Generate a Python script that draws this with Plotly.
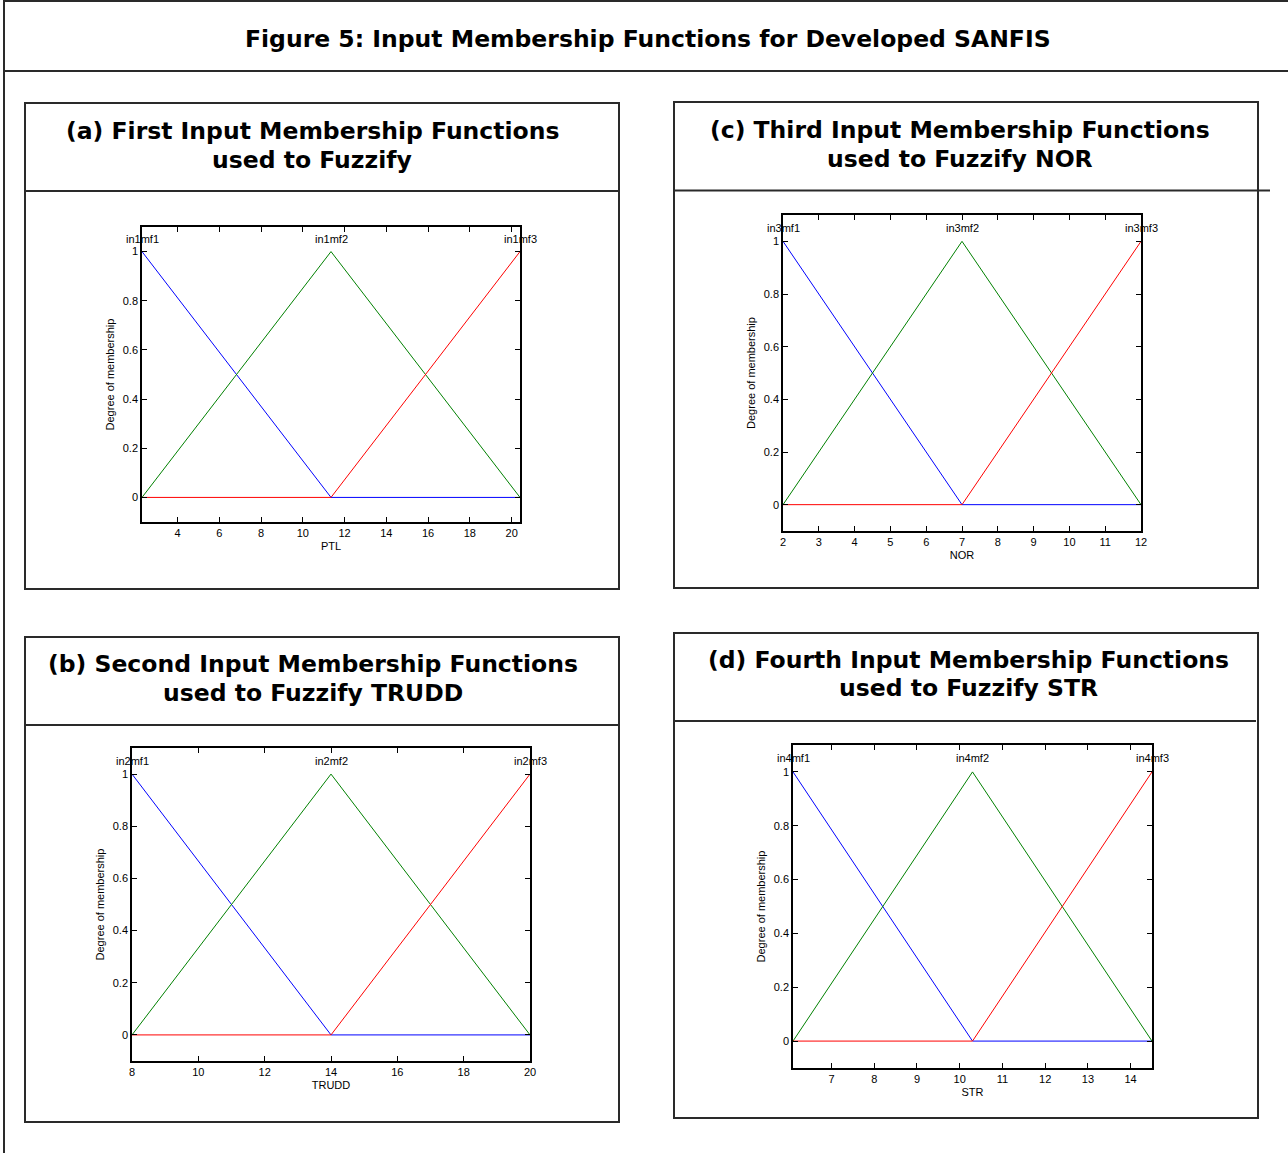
import plotly.graph_objects as go

W, H = 1288, 1153

# ---------------- data ----------------
# breakpoints of the three triangular membership functions of each input
ptl_x = [2.3, 11.35, 20.4]
trudd_x = [8, 14, 20]
nor_x = [2, 7, 12]
str_x = [6.1, 10.3, 14.5]

mf1_y = [1, 0, 0]
mf2_y = [0, 1, 0]
mf3_y = [0, 0, 1]

ptl_ticks = [4, 6, 8, 10, 12, 14, 16, 18, 20]
trudd_ticks = [8, 10, 12, 14, 16, 18, 20]
nor_ticks = [2, 3, 4, 5, 6, 7, 8, 9, 10, 11, 12]
str_ticks = [7, 8, 9, 10, 11, 12, 13, 14]
y_ticks = [0, 0.2, 0.4, 0.6, 0.8, 1]
y_tick_text = ["0", "0.2", "0.4", "0.6", "0.8", "1"]

fig_title = "Figure 5: Input Membership Functions for Developed SANFIS"

panels = [
    dict(x=ptl_x, ticks=ptl_ticks, name="PTL", pre="in1",
         title=["(a) First Input Membership Functions", "used to Fuzzify"],
         plot=(142, 520, 227, 522), box=(25, 619, 103, 589), sep=(25, 619, 191),
         tpos=(312, 131, 160)),
    dict(x=nor_x, ticks=nor_ticks, name="NOR", pre="in3",
         title=["(c) Third Input Membership Functions", "used to Fuzzify NOR"],
         plot=(783, 1141, 215, 531), box=(674, 1258, 102, 588), sep=(674, 1270, 190.5),
         tpos=(960, 130, 159)),
    dict(x=trudd_x, ticks=trudd_ticks, name="TRUDD", pre="in2",
         title=["(b) Second Input Membership Functions", "used to Fuzzify TRUDD"],
         plot=(132, 530, 748, 1061), box=(25, 619, 637, 1122), sep=(25, 619, 725),
         tpos=(313, 664, 693)),
    dict(x=str_x, ticks=str_ticks, name="STR", pre="in4",
         title=["(d) Fourth Input Membership Functions", "used to Fuzzify STR"],
         plot=(793, 1152, 745, 1068), box=(674, 1258, 633, 1118), sep=(674, 1256, 721),
         tpos=(968, 660, 688)),
]


def px(x):
    return x / W


def py(y):
    return 1 - y / H


fig = go.Figure()
shapes = []
annotations = []
layout = {}

tick_font = dict(family="Liberation Sans, Arial", size=11, color="black")
title_font = dict(family="DejaVu Sans, Verdana", size=23.5, color="black")
border = dict(color="#2a2a2a", width=2)

# outer frame
shapes.append(dict(type="rect", xref="paper", yref="paper",
                   x0=px(4), x1=px(1300), y0=py(1), y1=py(1170), line=border))
shapes.append(dict(type="line", xref="paper", yref="paper",
                   x0=px(4), x1=px(1300), y0=py(71), y1=py(71), line=border))
annotations.append(dict(xref="paper", yref="paper", x=px(648), y=py(39),
                        text="<b>" + fig_title + "</b>", showarrow=False,
                        xanchor="center", yanchor="middle", font=title_font))

colors = ["#0000ff", "#008000", "#ff0000"]
mfs = [mf1_y, mf2_y, mf3_y]

for i, p in enumerate(panels, start=1):
    xa = "xaxis" if i == 1 else f"xaxis{i}"
    ya = "yaxis" if i == 1 else f"yaxis{i}"
    xr = "x" if i == 1 else f"x{i}"
    yr = "y" if i == 1 else f"y{i}"
    x0, x1, y0, y1 = p["plot"]

    for k in range(3):
        fig.add_trace(go.Scatter(x=p["x"], y=mfs[k], mode="lines",
                                 line=dict(color=colors[k], width=1),
                                 xaxis=xr, yaxis=yr, showlegend=False,
                                 hoverinfo="skip"))
        annotations.append(dict(xref=xr, yref=yr, x=p["x"][k], y=1.05,
                                text=f"{p['pre']}mf{k+1}", showarrow=False,
                                xanchor="center", yanchor="middle",
                                font=dict(family="Liberation Sans, Arial", size=11, color="black")))

    layout[xa] = dict(domain=[px(x0), px(x1)], range=[p["x"][0], p["x"][2]],
                      anchor=yr, tickvals=p["ticks"], ticks="inside", ticklen=5,
                      tickcolor="black", showline=True, linecolor="black", linewidth=1.5,
                      mirror="ticks", showgrid=False, zeroline=False, automargin=False,
                      tickfont=tick_font,
                      title=dict(text=p["name"], font=tick_font, standoff=4))
    layout[ya] = dict(domain=[py(y1), py(y0)], range=[-0.1, 1.1],
                      anchor=xr, tickvals=y_ticks, ticktext=y_tick_text,
                      ticks="inside", ticklen=5,
                      tickcolor="black", showline=True, linecolor="black", linewidth=1.5,
                      mirror="ticks", showgrid=False, zeroline=False, automargin=False,
                      tickfont=tick_font,
                      title=dict(text="Degree of membership", font=tick_font, standoff=6))

    bx0, bx1, by0, by1 = p["box"]
    shapes.append(dict(type="rect", xref="paper", yref="paper",
                       x0=px(bx0), x1=px(bx1), y0=py(by0), y1=py(by1), line=border))
    sx0, sx1, sy = p["sep"]
    shapes.append(dict(type="line", xref="paper", yref="paper",
                       x0=px(sx0), x1=px(sx1), y0=py(sy), y1=py(sy), line=border))
    tx, ty1, ty2 = p["tpos"]
    for line_text, ty in zip(p["title"], (ty1, ty2)):
        annotations.append(dict(xref="paper", yref="paper", x=px(tx), y=py(ty),
                                text="<b>" + line_text + "</b>",
                                showarrow=False, xanchor="center", yanchor="middle",
                                font=title_font))

fig.update_layout(width=W, height=H, margin=dict(l=0, r=0, t=0, b=0, pad=0),
                  autosize=False,
                  paper_bgcolor="white", plot_bgcolor="white",
                  shapes=shapes, annotations=annotations, **layout)

fig.write_html("out.html", config={"displayModeBar": False},
               post_script="document.body.style.margin='0px';document.body.style.overflow='hidden';")
